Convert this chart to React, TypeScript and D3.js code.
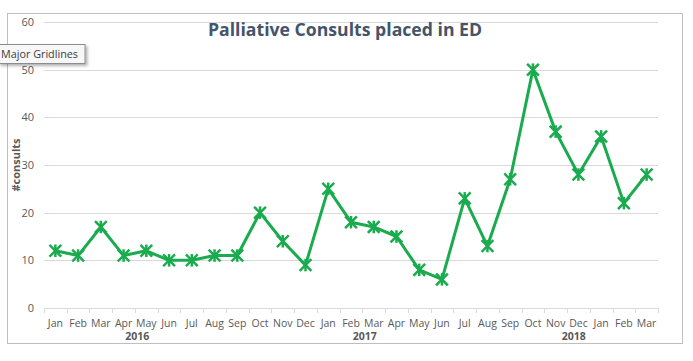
import React from "react";
import * as d3 from "d3";

const months = [
  "Jan","Feb","Mar","Apr","May","Jun","Jul","Aug","Sep","Oct","Nov","Dec",
  "Jan","Feb","Mar","Apr","May","Jun","Jul","Aug","Sep","Oct","Nov","Dec",
  "Jan","Feb","Mar",
];
const consults = [
  12, 11, 17, 11, 12, 10, 10, 11, 11, 20, 14, 9,
  25, 18, 17, 15, 8, 6, 23, 13, 27, 50, 37, 28,
  36, 22, 28,
];
const yearLabels = ["2016", "2017", "2018"];
const yearLabelAt = [3.6, 13.6, 22.8];
const yTicks = [0, 10, 20, 30, 40, 50, 60];

const W = 693;
const H = 361;
const left = 44;
const right = 658;
const top = 22;
const bottom = 308;
const green = "#1AAB4F";
const font = "'Open Sans', 'Liberation Sans', sans-serif";

export default function App() {
  const x = d3.scaleBand<number>().domain(d3.range(months.length)).range([left, right]);
  const y = d3.scaleLinear().domain([0, 60]).range([bottom, top]);
  const cx = (i: number) => (x(i) as number) + x.bandwidth() / 2;
  const line = d3.line<number>().x((_, i) => cx(i)).y((d) => y(d));
  const bw = x.bandwidth();
  const s = 5;

  return (
    <svg width={W} height={H} style={{ position: "absolute", left: 0, top: 0, background: "#fff" }}>
      <defs>
        <filter id="sh" x="-10%" y="-20%" width="130%" height="170%">
          <feDropShadow dx="2" dy="2" stdDeviation="1.5" floodColor="#000" floodOpacity="0.3" />
        </filter>
      </defs>
      <rect x={0} y={0} width={W} height={H} fill="#fff" />
      <rect x={7.5} y={13.5} width={675} height={330} fill="#fff" stroke="#BFBFBF" strokeWidth={1} />
      {yTicks.map((t) => (
        <g key={t}>
          {t > 0 && (
            <line x1={left} x2={right} y1={Math.round(y(t)) + 0.5} y2={Math.round(y(t)) + 0.5} stroke="#D9D9D9" strokeWidth={1} />
          )}
          <text x={34} y={y(t) + 4} textAnchor="end" fontSize={11} fill="#595959" fontFamily={font}>
            {t}
          </text>
        </g>
      ))}
      <line x1={left} x2={right} y1={bottom + 0.5} y2={bottom + 0.5} stroke="#D9D9D9" />
      {d3.range(months.length + 1).map((i) => (
        <line
          key={i}
          x1={Math.round(left + i * bw) + 0.5}
          x2={Math.round(left + i * bw) + 0.5}
          y1={bottom}
          y2={bottom + 5}
          stroke="#D9D9D9"
        />
      ))}
      {months.map((m, i) => (
        <text key={i} x={cx(i)} y={326.5} textAnchor="middle" fontSize={10.5} fill="#595959" fontFamily={font}>
          {m}
        </text>
      ))}
      {yearLabels.map((yl, i) => (
        <text
          key={yl}
          x={left + (yearLabelAt[i] + 0.5) * bw}
          y={340}
          textAnchor="middle"
          fontSize={10.5}
          fontWeight="bold"
          fill="#595959"
          fontFamily={font}
        >
          {yl}
        </text>
      ))}
      <text
        transform={`translate(20,${165}) rotate(-90)`}
        textAnchor="middle"
        fontSize={11}
        fontWeight="bold"
        fill="#595959"
        fontFamily={font}
      >
        #consults
      </text>
      <text x={345} y={36} textAnchor="middle" fontSize={18} fontWeight="bold" fill="#44546A" fontFamily={font} textLength={274} lengthAdjust="spacingAndGlyphs">
        Palliative Consults placed in ED
      </text>
      <path d={line(consults) || ""} fill="none" stroke={green} strokeWidth={3} strokeLinejoin="round" />
      {consults.map((v, i) => (
        <g key={i} transform={`translate(${cx(i)},${y(v)})`} stroke={green} strokeWidth={2.5} strokeLinecap="square">
          <line x1={-s} y1={-s} x2={s} y2={s} />
          <line x1={-s} y1={s} x2={s} y2={-s} />
          <line x1={0} y1={-s} x2={0} y2={s} />
        </g>
      ))}
      <g filter="url(#sh)">
        <rect x={-1} y={44.5} width={86} height={19} fill="#F7F7F9" stroke="#8C8C8C" strokeWidth={1} />
      </g>
      <text x={1} y={58} fontSize={11.5} fill="#3C3C3C" fontFamily={font} textLength={77} lengthAdjust="spacingAndGlyphs">
        Major Gridlines
      </text>
    </svg>
  );
}
